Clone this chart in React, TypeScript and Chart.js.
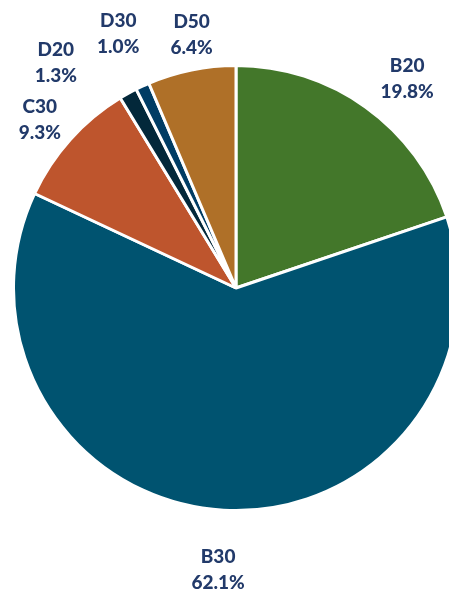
import React, { useEffect, useRef } from "react";
import { Chart, registerables } from "chart.js";

Chart.register(...registerables);

const categories = ["B20", "B30", "C30", "D20", "D30", "D50"];
const shares = [19.8, 62.1, 9.3, 1.3, 1.0, 6.4];
const sliceColors = ["#43772A", "#005370", "#BE552D", "#03283A", "#003C64", "#AF7028"];

// label placement tweaks: angle nudge (deg, clockwise) and distance as a multiple of radius
const labelNudgeDeg = [3.6, 0.4, -1.3, -9.7, 0, 1.6];
const labelDistance = [1.215, 1.268, 1.161, 1.295, 1.259, 1.156];

const labelPlugin = {
  id: "outsideLabels",
  afterDatasetsDraw(chart: any) {
    const ctx = chart.ctx;
    const meta = chart.getDatasetMeta(0);
    ctx.save();
    ctx.fillStyle = "#223A6A";
    ctx.font = "900 19px Lato";
    ctx.textAlign = "center";
    ctx.textBaseline = "middle";
    meta.data.forEach((arc: any, i: number) => {
      const p = arc.getProps(["x", "y", "startAngle", "endAngle", "outerRadius"], true);
      const mid = (p.startAngle + p.endAngle) / 2 + (labelNudgeDeg[i] * Math.PI) / 180;
      const d = p.outerRadius * labelDistance[i];
      const cx = p.x + Math.cos(mid) * d;
      const cy = p.y + Math.sin(mid) * d;
      ctx.fillText(categories[i], cx, cy - 13);
      ctx.fillText(shares[i].toFixed(1) + "%", cx, cy + 13);
    });
    ctx.restore();
  },
};

export default function App() {
  const ref = useRef<HTMLCanvasElement | null>(null);
  useEffect(() => {
    if (!ref.current) return;
    const chart = new Chart(ref.current, {
      type: "pie",
      data: {
        labels: categories,
        datasets: [
          {
            data: shares,
            backgroundColor: sliceColors,
            borderColor: "#FFFFFF",
            borderWidth: 3,
          },
        ],
      },
      options: {
        animation: false,
        responsive: false,
        maintainAspectRatio: false,
        layout: { padding: { left: 12, right: 0, top: 64, bottom: 81 } },
        plugins: {
          legend: { display: false },
          tooltip: { enabled: false },
        },
      },
      plugins: [labelPlugin],
    });
    return () => chart.destroy();
  }, []);
  return (
    <div
      style={{
        position: "fixed",
        left: 0,
        top: 0,
        width: 449,
        height: 593,
        overflow: "hidden",
        background: "#fff",
      }}
    >
      <canvas ref={ref} width={460} height={593} style={{ display: "block" }} />
    </div>
  );
}
